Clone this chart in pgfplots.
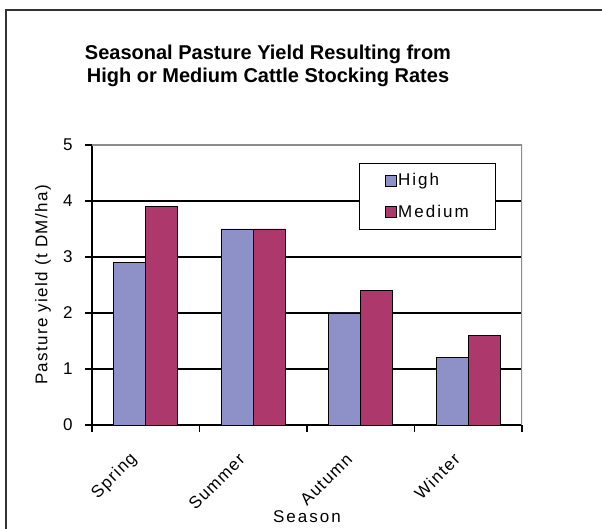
\documentclass[border=0pt]{standalone}
\usepackage{fontspec}
\setmainfont{Liberation Sans}
\newfontfamily\widefont[LetterSpace=12]{Liberation Sans}
\newfontfamily\midfont[LetterSpace=8]{Liberation Sans}
\usepackage{pgfplots}
\pgfplotsset{compat=1.18}
\definecolor{highc}{HTML}{8E90C8}
\definecolor{medc}{HTML}{AC386C}
\newcommand{\lbl}{\fontsize{17}{20}\selectfont}
\begin{document}
\begin{tikzpicture}[x=1pt,y=1pt]
\useasboundingbox (0,0) rectangle (602,529);
\draw[line width=2pt, black!80] (6,-2) -- (6,519) -- (604,519);
\node[align=center, font=\bfseries\fontsize{20}{23}\selectfont] at (268,463) {Seasonal Pasture Yield Resulting from\\High or Medium Cattle Stocking Rates};
\node[font=\midfont\lbl, rotate=90] at (43,244) {Pasture yield (t DM/ha)};
\node[font=\widefont\lbl] at (307,12) {Season};
\begin{axis}[
 at={(92pt,104pt)}, anchor=south west, scale only axis, width=430pt, height=280pt,
 xmin=-0.5, xmax=3.5, ymin=0, ymax=5,
 ybar=0pt, bar width=32pt,
 axis x line*=bottom, axis y line*=left,
 axis line style={line width=1.4pt, -},
 xtick={-0.5,0.5,1.5,2.5,3.5}, xticklabels={,,,,,},
 extra x ticks={0,1,2,3}, extra x tick labels={Spring,Summer,Autumn,Winter},
 extra x tick style={tick style={draw=none}, tick label style={font=\midfont\lbl, xshift=-9pt, yshift=-22pt, rotate=45, anchor=east}},
 ytick={0,1,2,3,4,5},
 yticklabel style={xshift=-9pt},
 tick align=outside, major tick length=7pt,
 tick style={black, line width=1.4pt},
 ymajorgrids, major grid style={black, line width=1.2pt},
 tick label style={font=\lbl},
 /pgf/number format/assume math mode=true,
 legend style={at={(0.621,0.936)}, anchor=north west, draw=black, line width=1pt, fill=white, font=\widefont\lbl, row sep=14pt, inner xsep=25pt, inner ysep=8pt},
 legend cell align=left,
 legend image code/.code={\draw[#1, line width=0.6pt] (0pt,-5.5pt) rectangle (11pt,5.5pt);},
]
\addplot[fill=highc, draw=black, line width=0.8pt] coordinates {(0,2.9) (1,3.5) (2,2.0) (3,1.2)};
\addplot[fill=medc, draw=black, line width=0.8pt] coordinates {(0,3.9) (1,3.5) (2,2.4) (3,1.6)};
\legend{High,Medium}
\draw[black!45, line width=1.4pt] (rel axis cs:0,1) -- (rel axis cs:1,1) -- (rel axis cs:1,0);
\end{axis}
\end{tikzpicture}
\end{document}
